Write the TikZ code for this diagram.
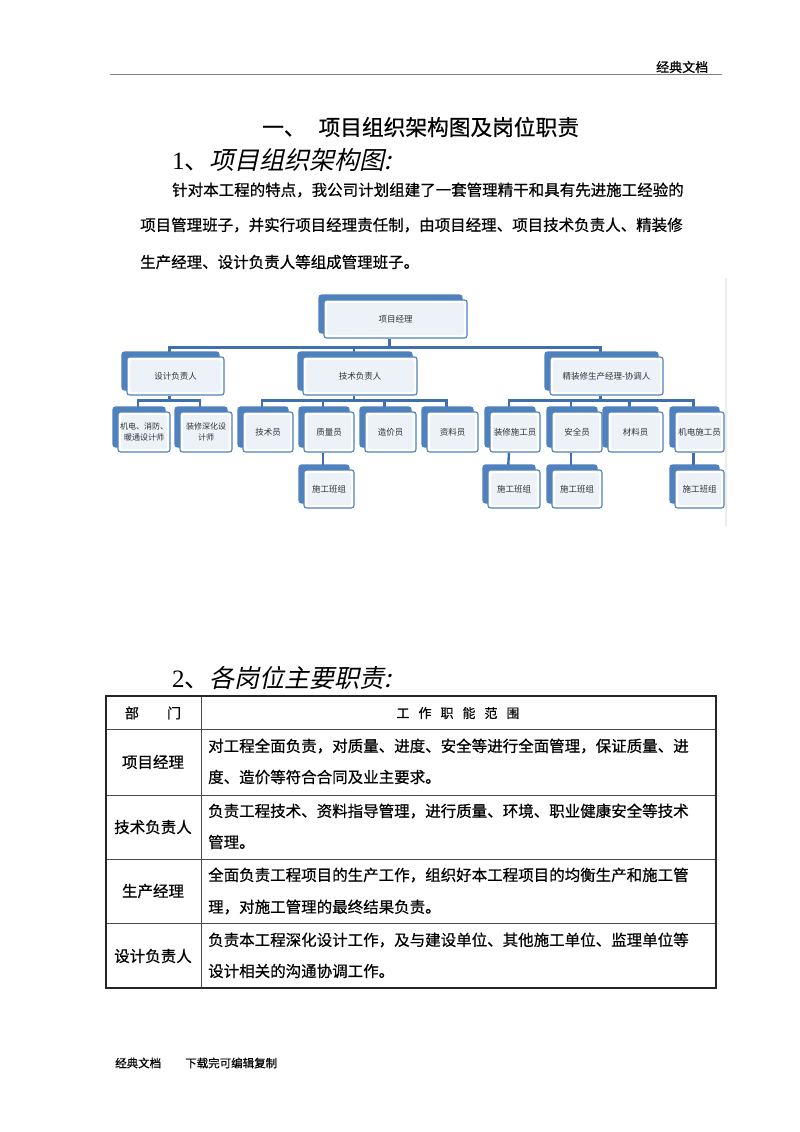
\documentclass[tikz,border=0pt]{standalone}
\usepackage{fontspec}
\setmainfont{Liberation Serif}
\newfontfamily\cjk{Noto Sans CJK SC}
\newfontfamily\cjkheavy[FakeBold=0.6]{Noto Sans CJK SC}
\newfontfamily\cjkit[FakeSlant=0.22]{Noto Sans CJK SC}
\usetikzlibrary{shadows, backgrounds}

\definecolor{boxblue}{HTML}{4F81BD}
\definecolor{boxfill}{HTML}{EDF1F8}
\definecolor{linkblue}{HTML}{3F6FAE}
\definecolor{labelgray}{HTML}{333333}
\definecolor{rulegray}{HTML}{808080}

\begin{document}
\begin{tikzpicture}[x=1pt, y=-1pt,
    orgbox/.style={draw=boxblue, line width=1.1pt, rounded corners=2.5pt, fill=white,
      minimum height=38pt, inner sep=1pt, align=center, text=labelgray,
      font=\cjk\fontsize{8.5}{10}\selectfont,
      copy shadow={shadow xshift=-5pt, shadow yshift=5pt, fill=boxblue, draw=boxblue},
      path picture={\fill[boxfill] ([shift={(3pt,3pt)}]path picture bounding box.south west)
        rectangle ([shift={(-3pt,-3pt)}]path picture bounding box.north east);}},
    link/.style={draw=linkblue, line width=2.4pt},
    body/.style={anchor=west, inner sep=0pt, font=\cjkheavy\fontsize{15.5}{15.5}\selectfont},
    heading/.style={anchor=west, inner sep=0pt, font=\fontsize{25}{25}\selectfont},
    cell/.style={inner sep=0pt, font=\cjkheavy\fontsize{15.5}{15.5}\selectfont},
    small/.style={anchor=west, inner sep=0pt, font=\cjkheavy\fontsize{11.5}{12}\selectfont},
]
    % page
    \begin{scope}[on background layer]
      \fill[white] (0,0) rectangle (800,1132);
    \end{scope}
    \useasboundingbox (0,0) rectangle (800,1132);

    % header and title
    \node[small, font=\cjkheavy\fontsize{13}{13}\selectfont] (head) at (656,67) {经典文档};
    \draw[rulegray, line width=0.8pt] (110,74) -- (722,74);
    \node[anchor=west, inner sep=0pt, font=\cjkheavy\fontsize{21.7}{22}\selectfont] (title) at (262,127) {一、\hspace{13pt}项目组织架构图及岗位职责};
    \node[heading] (h1) at (172,160) {1{\cjk 、}{\cjkit 项目组织架构图:}};

    % intro text
    \node[body] (p1) at (172,190) {针对本工程的特点，我公司计划组建了一套管理精干和具有先进施工经验的};
    \node[body] (p2) at (140,225) {项目管理班子，并实行项目经理责任制，由项目经理、项目技术负责人、精装修};
    \node[body] (p3) at (140,262) {生产经理、设计负责人等组成管理班子。};

    % org chart
    \draw[gray!15, line width=1.5pt] (726,278) -- (726,526);
    \node[orgbox, minimum width=143pt] (pm) at (395.5,319) {项目经理};
    \node[orgbox, minimum width=97pt] (dsg) at (175.5,376) {设计负责人};
    \node[orgbox, minimum width=114pt] (tec) at (360,376) {技术负责人};
    \node[orgbox, minimum width=113pt] (fit) at (606.5,376) {精装修生产经理-协调人};

    \node[orgbox, minimum width=52pt, minimum height=40pt, font=\cjk\fontsize{8}{11}\selectfont] (mep) at (144,432) {机电、消防、\\暖通设计师};
    \node[orgbox, minimum width=52pt, minimum height=40pt, font=\cjk\fontsize{8}{11}\selectfont] (deep) at (206,432) {装修深化设\\计师};
    \node[orgbox, minimum width=50pt, minimum height=40pt] (tech) at (268,432) {技术员};
    \node[orgbox, minimum width=50pt, minimum height=40pt] (qual) at (329,432) {质量员};
    \node[orgbox, minimum width=51pt, minimum height=40pt] (cost) at (390.5,432) {造价员};
    \node[orgbox, minimum width=51pt, minimum height=40pt] (docs) at (452.5,432) {资料员};
    \node[orgbox, minimum width=50pt, minimum height=40pt] (deco) at (515,432) {装修施工员};
    \node[orgbox, minimum width=50pt, minimum height=40pt] (safe) at (577,432) {安全员};
    \node[orgbox, minimum width=55pt, minimum height=40pt] (matl) at (635.5,432) {材料员};
    \node[orgbox, minimum width=49pt, minimum height=40pt] (elec) at (699.5,432) {机电施工员};

    \node[orgbox, minimum width=50pt] (crewa) at (329,489) {施工班组};
    \node[orgbox, minimum width=52pt] (crewb) at (514,489) {施工班组};
    \node[orgbox, minimum width=50pt] (crewc) at (577,489) {施工班组};
    \node[orgbox, minimum width=49pt] (crewd) at (699.5,489) {施工班组};

    \begin{scope}[on background layer]
      \path ([xshift=-6pt]pm.south) ++(0,9) coordinate (b0);
      \draw[link] ([xshift=-6pt]pm.south) -- (b0);
      \foreach \n in {dsg,tec,fit} \draw[link] (b0) -| ([xshift=-6pt]\n.north);
      \path ([xshift=-6pt]dsg.south) ++(0,5) coordinate (b1);
      \draw[link] ([xshift=-6pt]dsg.south) -- (b1);
      \foreach \n in {mep,deep} \draw[link] (b1) -| ([xshift=-6pt]\n.north);
      \path ([xshift=-6pt]tec.south) ++(0,5) coordinate (b2);
      \draw[link] ([xshift=-6pt]tec.south) -- (b2);
      \foreach \n in {tech,qual,cost,docs} \draw[link] (b2) -| ([xshift=-6pt]\n.north);
      \path ([xshift=-6pt]fit.south) ++(0,5) coordinate (b3);
      \draw[link] ([xshift=-6pt]fit.south) -- (b3);
      \foreach \n in {deco,safe,matl,elec} \draw[link] (b3) -| ([xshift=-6pt]\n.north);
      \draw[link] ([xshift=-6pt]qual.south) -- ([xshift=-6pt]crewa.north);
      \draw[link] ([xshift=-6pt]deco.south) -- ([xshift=-6pt]crewb.north);
      \draw[link] ([xshift=-6pt]safe.south) -- ([xshift=-6pt]crewc.north);
      \draw[link] ([xshift=-6pt]elec.south) -- ([xshift=-6pt]crewd.north);
    \end{scope}

    % duties table
    \node[heading] (h2) at (172,678) {2{\cjk 、}{\cjkit 各岗位主要职责:}};
    \draw[black!70, line width=0.8pt] (106,729) -- (716,729) (106,795) -- (716,795)
      (106,859) -- (716,859) (106,923) -- (716,923) (201,696) -- (201,988);
    \draw[black!85, line width=2pt] (106,696) rectangle (716,988);

    \node[cell, font=\cjkheavy\fontsize{14}{14}\selectfont] (c0) at (153,713) {部\hspace{28pt}门};
    \node[cell, font=\cjkheavy\fontsize{13}{13}\selectfont] (d0) at (458,713) {工\hspace{9pt}作\hspace{9pt}职\hspace{9pt}能\hspace{9pt}范\hspace{9pt}围};

    \node[cell] (c1) at (153,762) {项目经理};
    \node[body] (d1a) at (208,746) {对工程全面负责，对质量、进度、安全等进行全面管理，保证质量、进};
    \node[body] (d1b) at (208,777) {度、造价等符合合同及业主要求。};

    \node[cell] (c2) at (153,827) {技术负责人};
    \node[body] (d2a) at (208,811) {负责工程技术、资料指导管理，进行质量、环境、职业健康安全等技术};
    \node[body] (d2b) at (208,842) {管理。};

    \node[cell] (c3) at (153,891) {生产经理};
    \node[body] (d3a) at (208,875) {全面负责工程项目的生产工作，组织好本工程项目的均衡生产和施工管};
    \node[body] (d3b) at (208,907) {理，对施工管理的最终结果负责。};

    \node[cell] (c4) at (153,956) {设计负责人};
    \node[body] (d4a) at (208,940) {负责本工程深化设计工作，及与建设单位、其他施工单位、监理单位等};
    \node[body] (d4b) at (208,971) {设计相关的沟通协调工作。};

    % footer
    \node[small] (foot1) at (115,1063) {经典文档};
    \node[small] (foot2) at (185,1063) {下载完可编辑复制};
\end{tikzpicture}
\end{document}
